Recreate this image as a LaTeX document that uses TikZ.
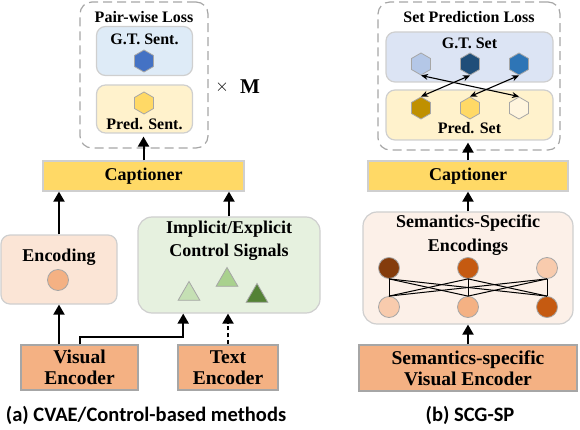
\documentclass[tikz,border=0pt]{standalone}
\usepackage{fontspec}
\setmainfont{Liberation Serif}
\newfontfamily\capfont{Carlito}
\usepackage{tikz}
\usetikzlibrary{calc,arrows.meta,shapes.geometric}

\definecolor{boxgray}{HTML}{CFCFCF}
\definecolor{dashgray}{HTML}{A6A6A6}
\definecolor{gtblue}{HTML}{DEEBF7}
\definecolor{gtlav}{HTML}{DCE4F4}
\definecolor{predyel}{HTML}{FFF2CC}
\definecolor{capyel}{HTML}{FFD966}
\definecolor{encpeach}{HTML}{FBE5D6}
\definecolor{encpale}{HTML}{FCF0E8}
\definecolor{ctrlgreen}{HTML}{E6F1DF}
\definecolor{encorange}{HTML}{F4B183}

\begin{document}
\begin{tikzpicture}[x=1pt,y=-1pt,
    bold/.style={font=\bfseries\fontsize{16}{18}\selectfont},
    roundbox/.style={draw=boxgray,line width=1.2pt,rounded corners=9pt},
    dashbox/.style={draw=dashgray,line width=1.2pt,dash pattern=on 9pt off 5pt,rounded corners=12pt},
    capbox/.style={draw=boxgray,line width=1.3pt,fill=capyel,font=\bfseries\fontsize{18}{20}\selectfont},
    encbox/.style={draw=dashgray,line width=1.3pt,fill=encorange,align=center,font=\bfseries\fontsize{19.5}{23}\selectfont},
    hexa/.style={regular polygon,regular polygon sides=6,shape border rotate=30,draw=dashgray,line width=0.8pt,minimum size=22pt,inner sep=0pt},
    tri/.style={regular polygon,regular polygon sides=3,draw=dashgray,line width=0.8pt,minimum size=25pt,inner sep=0pt},
    dot/.style={circle,draw=dashgray,line width=0.8pt,minimum size=21pt,inner sep=0pt},
    bigarrow/.style={line width=2pt,-{Triangle[length=10pt,width=11pt]}},
    match/.style={line width=1.1pt,{Stealth[length=7pt,width=6pt]}-{Stealth[length=7pt,width=6pt]}}]
\useasboundingbox (0,0) rectangle (580,430);

% (a) CVAE/Control-based methods
\node[dashbox,minimum width=128pt,minimum height=146pt] (lossA) at (144,75) {};
\node[bold] (lossAt) at (144,17) {Pair-wise Loss};
\node[roundbox,fill=gtblue,minimum width=96pt,minimum height=49pt] (gtA) at (144.5,51) {};
\node[bold] (gtAt) at (144.5,39) {G.T. Sent.};
\node[hexa,fill={rgb,255:red,68;green,114;blue,196}] (hA) at (144,61) {};
\node[roundbox,fill=predyel,minimum width=96pt,minimum height=48pt] (predA) at (144.5,109) {};
\node[hexa,fill=capyel] (pA) at (144,103) {};
\node[bold] (predAt) at (144.5,124) {Pred. Sent.};
\node[font=\fontsize{17}{19}\selectfont] (times) at (222,87) {$\times$};
\node[font=\bfseries\fontsize{21}{23}\selectfont] (M) at (250,87) {M};

\node[capbox,minimum width=201pt,minimum height=30pt] (capA) at (143.5,176) {Captioner};

\node[roundbox,fill=encpeach,minimum width=116pt,minimum height=69pt] (encA) at (59,269.5) {};
\node[font=\bfseries\fontsize{18}{20}\selectfont] (encAt) at (59,257) {Encoding};
\node[dot,fill=encorange] (cA) at (58,280) {};

\node[roundbox,fill=ctrlgreen,minimum width=182pt,minimum height=96pt,rounded corners=14pt] (ctrlA) at (229,265) {};
\node[align=center,font=\bfseries\fontsize{18}{23}\selectfont] (ctrlAt) at (229,240.5) {Implicit/Explicit\\Control Signals};
\node[tri,fill={rgb,255:red,197;green,224;blue,180}] (t1) at (189,294) {};
\node[tri,fill={rgb,255:red,169;green,209;blue,142}] (t2) at (227,280) {};
\node[tri,fill={rgb,255:red,84;green,130;blue,53}] (t3) at (257,296) {};

\node[encbox,minimum width=117pt,minimum height=45pt] (veA) at (79.5,367.5) {Visual\\[-2pt]Encoder};
\node[encbox,minimum width=100pt,minimum height=45pt] (teA) at (228,367.5) {Text\\[-2pt]Encoder};

\draw[bigarrow] (capA.north) -- ($(capA.north |- predA.south)+(0,3)$);
\draw[bigarrow] (encA.north) -- (encA.north |- capA.south);
\draw[bigarrow] (ctrlA.north) -- (ctrlA.north |- capA.south);
\draw[bigarrow] (encA.south |- veA.north) -- (encA.south);
\draw[bigarrow] (veA.north) -- ++(0,-7) -| ($(ctrlA.south west)!0.25!(ctrlA.south east)$);
\draw[bigarrow,dash pattern=on 4pt off 3pt] (teA.north) -- (teA.north |- ctrlA.south);

\node[font=\capfont\bfseries\fontsize{20.5}{22}\selectfont] (capa) at (146,415) {(a) CVAE/Control-based methods};

% (b) SCG-SP
\node[dashbox,minimum width=182pt,minimum height=148pt] (lossB) at (469,76) {};
\node[bold] (lossBt) at (469,17) {Set Prediction Loss};
\node[roundbox,fill=gtlav,minimum width=167pt,minimum height=50pt] (gtB) at (469.5,57) {};
\node[bold] (gtBt) at (469.5,43) {G.T. Set};
\node[roundbox,fill=predyel,minimum width=167pt,minimum height=50pt] (predB) at (469.5,115) {};
\node[bold] (predBt) at (469.5,128) {Pred. Set};
\node[hexa,fill={rgb,255:red,180;green,199;blue,231}] (g1) at (421,64) {};
\node[hexa,fill={rgb,255:red,31;green,78;blue,121}] (g2) at (470,64) {};
\node[hexa,fill={rgb,255:red,46;green,117;blue,182}] (g3) at (519,64) {};
\node[hexa,fill={rgb,255:red,191;green,144;blue,0}] (p1) at (421,108) {};
\node[hexa,fill=capyel] (p2) at (470,108) {};
\node[hexa,fill={rgb,255:red,255;green,245;blue,222}] (p3) at (519,108) {};
\draw[match] (g1.south) -- (p3.north);
\draw[match] (g2.south) -- (p1.north);
\draw[match] (g3.south) -- (p2.north);

\node[capbox,minimum width=200pt,minimum height=30pt] (capB) at (468,176) {Captioner};

\node[roundbox,fill=encpale,minimum width=210pt,minimum height=112pt,rounded corners=14pt] (sseB) at (468,268) {};
\node[align=center,font=\bfseries\fontsize{18}{24}\selectfont] (sseBt) at (468,235) {Semantics-Specific\\Encodings};
\node[dot,fill={rgb,255:red,132;green,60;blue,12}] (a1) at (389,268) {};
\node[dot,fill={rgb,255:red,197;green,90;blue,17}] (a2) at (468,268) {};
\node[dot,fill={rgb,255:red,248;green,203;blue,173}] (a3) at (547,268) {};
\node[dot,fill={rgb,255:red,248;green,203;blue,173}] (b1) at (389,307) {};
\node[dot,fill=encorange] (b2) at (468,307) {};
\node[dot,fill={rgb,255:red,197;green,90;blue,17}] (b3) at (547,307) {};
\foreach \i in {1,2,3}
  \foreach \j in {1,2,3}
    \draw[line width=1pt] (a\i.south) -- (b\j.north);

\node[encbox,minimum width=218pt,minimum height=46pt] (sveB) at (468,368) {Semantics-specific\\[-2pt]Visual Encoder};

\draw[bigarrow] (capB.north) -- ($(capB.north |- predB.south)+(0,2)$);
\draw[bigarrow] (sseB.north) -- (sseB.north |- capB.south);
\draw[bigarrow] (sveB.north) -- (sveB.north |- sseB.south);

\node[font=\capfont\bfseries\fontsize{20.5}{22}\selectfont] (capb) at (470,415) {(b) SCG-SP};
\end{tikzpicture}
\end{document}
